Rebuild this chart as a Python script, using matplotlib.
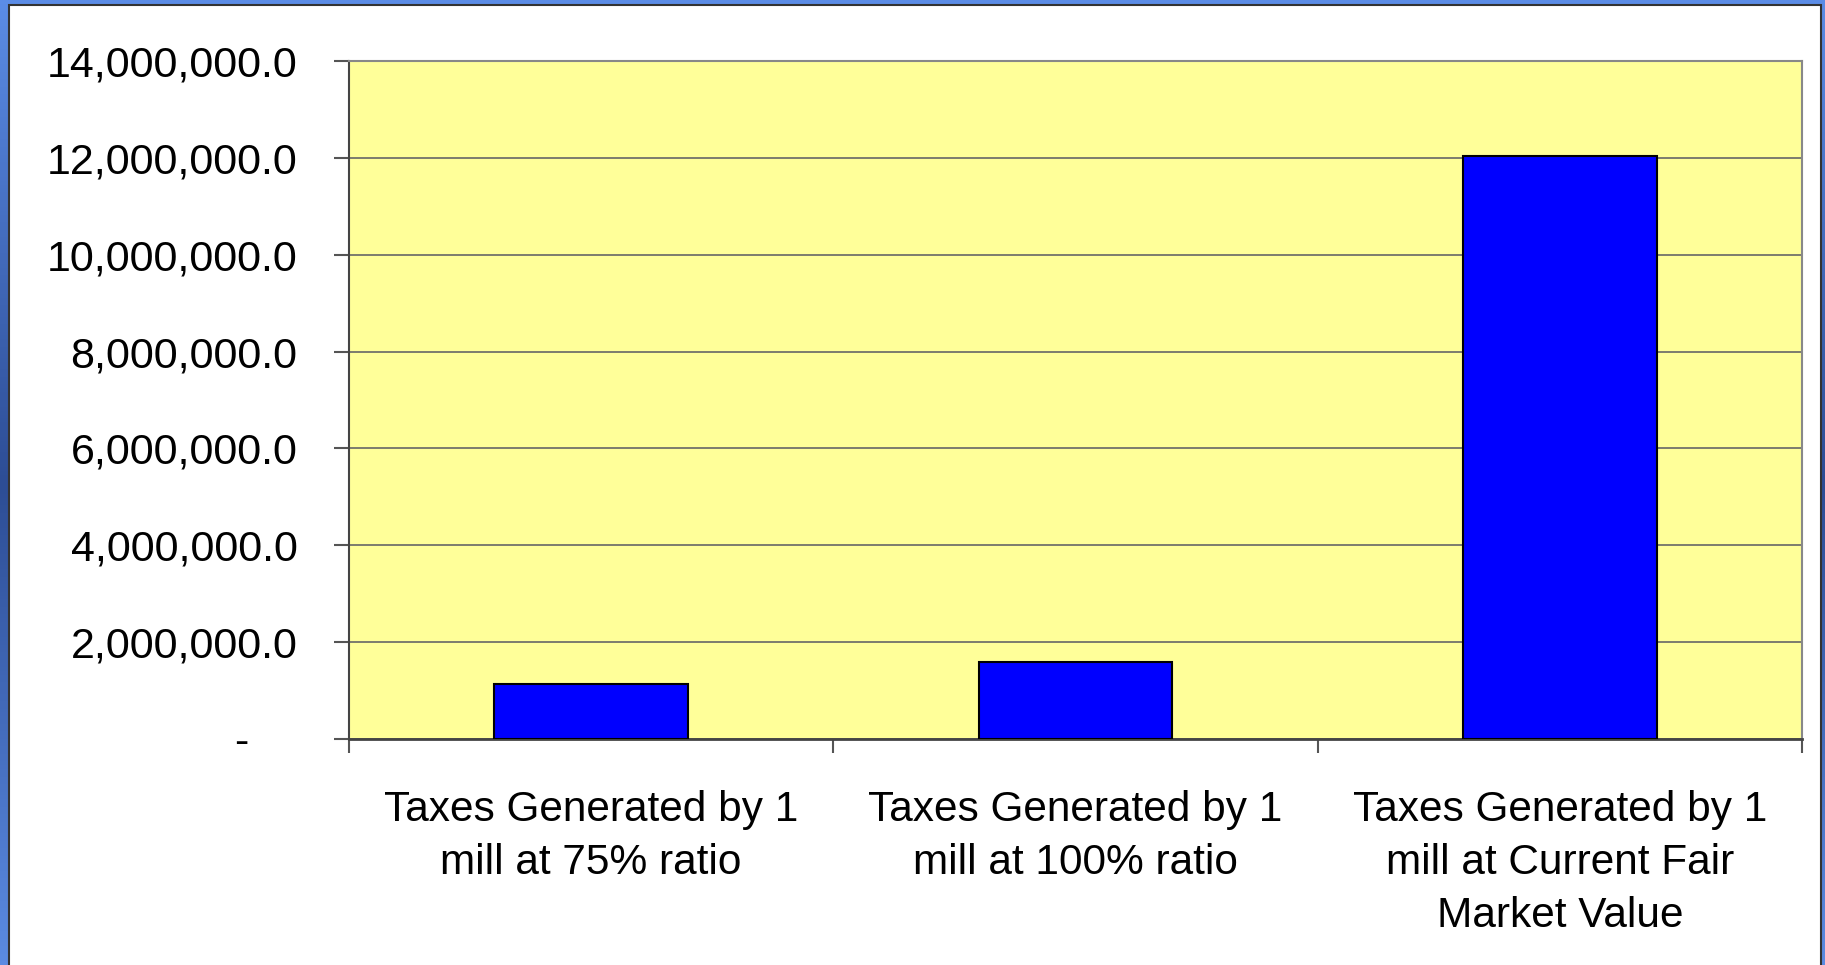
import numpy as np
import matplotlib
matplotlib.use("Agg")
import matplotlib.pyplot as plt
from matplotlib.patches import Rectangle
from matplotlib.colors import LinearSegmentedColormap
from matplotlib.ticker import FuncFormatter, MultipleLocator

plt.rcParams['font.family'] = ['Liberation Sans', 'DejaVu Sans']

categories = [
    "Taxes Generated by 1\nmill at 75% ratio",
    "Taxes Generated by 1\nmill at 100% ratio",
    "Taxes Generated by 1\nmill at Current Fair\nMarket Value",
]
taxes = [1136000, 1584000, 12030000]

W, H = 1825, 965
fig = plt.figure(figsize=(W / 100, H / 100), dpi=100)

# blue slide background, lighter at top and bottom
bg = fig.add_axes([0, 0, 1, 1], zorder=-10)
bg.set_axis_off()
cmap = LinearSegmentedColormap.from_list("slide", ["#5b8ce6", "#2d4d95", "#5b8be2"])
bg.imshow(np.linspace(0, 1, 256).reshape(-1, 1), aspect="auto", cmap=cmap,
          extent=[0, 1, 0, 1], origin="upper")
bg.set_xlim(0, 1)
bg.set_ylim(0, 1)

# white panel with a thin dark edge
bg.add_patch(Rectangle((8.5 / W, -0.02), (1820.5 - 8.5) / W, 1.02 - 4.5 / H,
                       facecolor="white", edgecolor="#333333", linewidth=1.5,
                       transform=bg.transAxes, clip_on=False))

ax = fig.add_axes([349 / W, 1 - 739 / H, (1802 - 349) / W, (739 - 61) / H])
ax.set_facecolor("#ffff99")

x = np.arange(len(categories))
ax.bar(x, taxes, width=0.4, color="#0000ff", edgecolor="black", linewidth=1.5, zorder=3)

ax.set_xlim(-0.5, len(categories) - 0.5)
ax.set_ylim(0, 14000000)
ax.yaxis.set_major_locator(MultipleLocator(2000000))
# accounting style: zero shown as a dash set in from the right
ax.yaxis.set_major_formatter(FuncFormatter(lambda v, p: "-    " if v == 0 else f"{v:,.1f}"))
ax.grid(axis="y", color="#666666", linewidth=1.2, zorder=1)
ax.set_axisbelow(True)

# category boundaries carry the ticks, labels sit between them
ax.set_xticks(np.arange(-0.5, len(categories), 1.0))
ax.set_xticklabels([])
ax.set_xticks(x, minor=True)
ax.set_xticklabels(categories, minor=True, fontsize=30.5, linespacing=1.42)
ax.tick_params(axis="x", which="minor", length=0, pad=37)
ax.tick_params(axis="x", which="major", length=10, width=1.5, color="#555555")
ax.tick_params(axis="y", length=11, width=1.5, color="#555555", labelsize=31, pad=26)

for side in ("top", "right"):
    ax.spines[side].set_color("#888888")
    ax.spines[side].set_linewidth(1.5)
ax.spines["left"].set_color("#444444")
ax.spines["left"].set_linewidth(1.5)
ax.spines["bottom"].set_color("#444444")
ax.spines["bottom"].set_linewidth(2)

fig.savefig("out.png", dpi=100)
